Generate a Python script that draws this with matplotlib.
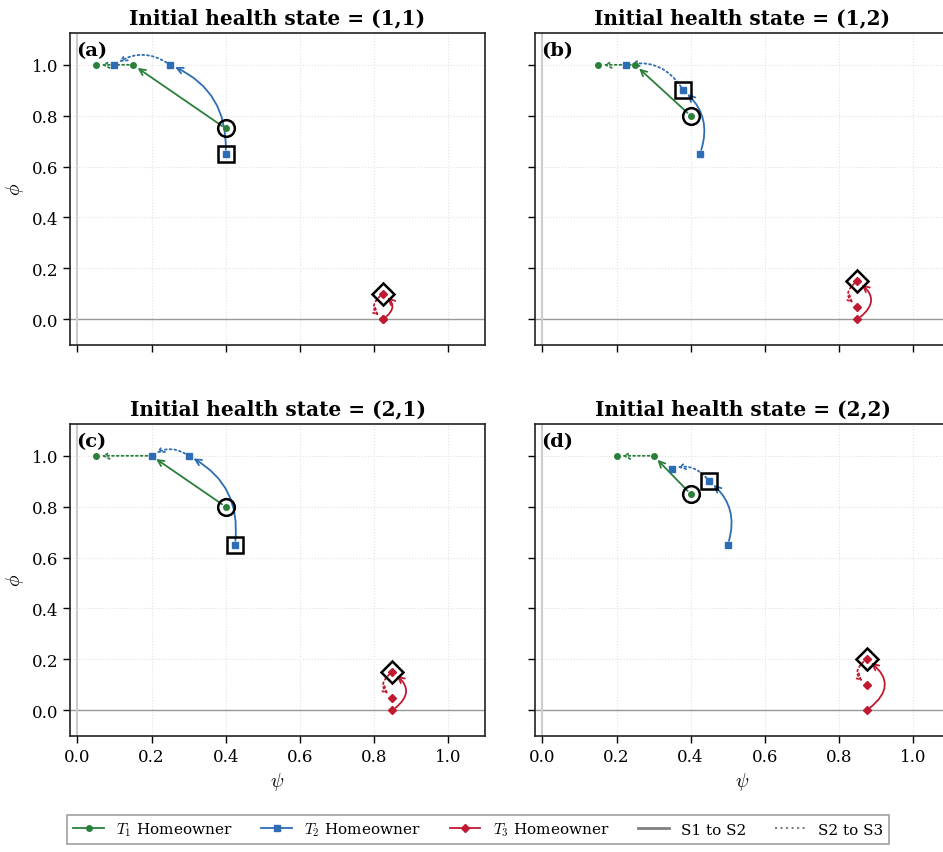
import numpy as np
import matplotlib
matplotlib.use("Agg")
from matplotlib import pyplot as plt
from matplotlib.patches import FancyArrowPatch
from matplotlib.lines import Line2D

# panel texts
titles = ["Initial health state = (1,1)", "Initial health state = (1,2)",
          "Initial health state = (2,1)", "Initial health state = (2,2)"]
panel_labels = ["(a)", "(b)", "(c)", "(d)"]

# positions (psi, phi) in stages S1, S2, S3 for each panel
T1_psi = [[0.40, 0.15, 0.05], [0.40, 0.25, 0.15], [0.40, 0.20, 0.05], [0.40, 0.30, 0.20]]
T1_phi = [[0.75, 1.00, 1.00], [0.80, 1.00, 1.00], [0.80, 1.00, 1.00], [0.85, 1.00, 1.00]]
T2_psi = [[0.40, 0.25, 0.10], [0.425, 0.38, 0.225], [0.425, 0.30, 0.20], [0.50, 0.45, 0.35]]
T2_phi = [[0.65, 1.00, 1.00], [0.65, 0.90, 1.00], [0.65, 1.00, 1.00], [0.65, 0.90, 0.95]]
T3_psi = [[0.825, 0.825, 0.825], [0.85, 0.85, 0.85], [0.85, 0.85, 0.85], [0.875, 0.875, 0.875]]
T3_phi = [[0.00, 0.10, 0.00], [0.00, 0.15, 0.05], [0.00, 0.15, 0.05], [0.00, 0.20, 0.10]]

# which stage gets the big hollow marker
T1_mark = [0, 0, 0, 0]
T2_mark = [0, 1, 0, 1]
T3_mark = [1, 1, 1, 1]

types = [
    ("$T_1$ Homeowner", T1_psi, T1_phi, T1_mark, "#2a7f3b", "o", 0.0, 12),
    ("$T_2$ Homeowner", T2_psi, T2_phi, T2_mark, "#2c6db5", "s", 0.35, 11),
    ("$T_3$ Homeowner", T3_psi, T3_phi, T3_mark, "#c01a31", "D", 0.7, 11.5),
]

matplotlib.rcParams['font.family'] = 'serif'
matplotlib.rcParams['font.serif'] = ['DejaVu Serif']
matplotlib.rcParams['mathtext.fontset'] = 'cm'
matplotlib.rcParams['font.size'] = 11

fig = plt.figure(figsize=(9.43, 8.53), dpi=100)

W = 415 / 943.
H = 311.7 / 853.
pos = [(70 / 943., 1 - 345.7 / 853., W, H),
       (535 / 943., 1 - 345.7 / 853., W, H),
       (70 / 943., 1 - 736.7 / 853., W, H),
       (535 / 943., 1 - 736.7 / 853., W, H)]

for k in range(4):
    ax = fig.add_axes(pos[k])
    ax.set_xlim(-0.02, 1.1)
    ax.set_ylim(-0.1, 1.125)
    ax.set_xticks(np.arange(0, 1.01, 0.2))
    ax.set_yticks(np.arange(0, 1.01, 0.2))
    ax.grid(True, linestyle=':', color='#e2e2e2', linewidth=0.8)
    ax.axhline(0, color='#999999', linewidth=1.0, zorder=1)
    ax.axvline(0, color='#cccccc', linewidth=1.5, zorder=1)
    for sp in ax.spines.values():
        sp.set_linewidth(1.2)
        sp.set_color('#222222')
    ax.tick_params(labelsize=12, length=5, width=1)
    ax.set_axisbelow(True)

    for name, P, F, M, col, mk, rad, big in types:
        x = P[k]
        y = F[k]
        ax.plot(x, y, linestyle='none', marker=mk, color=col,
                markersize=4 if mk != 'D' else 4.5, zorder=4)
        # S1 -> S2 solid, S2 -> S3 dotted
        for i, ls in ((0, '-'), (1, ':')):
            ar = FancyArrowPatch((x[i], y[i]), (x[i + 1], y[i + 1]),
                                 connectionstyle="arc3,rad=%g" % rad,
                                 arrowstyle='->', mutation_scale=11,
                                 color=col, linewidth=1.3, linestyle=ls,
                                 shrinkA=3, shrinkB=4, zorder=3)
            ax.add_patch(ar)
        j = M[k]
        ax.plot(x[j], y[j], linestyle='none', marker=mk, markersize=big,
                markerfacecolor='none', markeredgecolor='black',
                markeredgewidth=1.8, zorder=5)

    ax.set_title(titles[k], fontsize=14.5, fontweight='bold', pad=7)
    ax.text(0.015, 0.975, panel_labels[k], transform=ax.transAxes,
            fontsize=14, fontweight='bold', va='top', ha='left')

    if k in (2, 3):
        ax.set_xlabel(r'$\psi$', fontsize=14)
    else:
        ax.tick_params(labelbottom=False)
    if k in (0, 2):
        ax.set_ylabel(r'$\phi$', fontsize=14)
    else:
        ax.tick_params(labelleft=False)

handles = []
for name, P, F, M, col, mk, rad, big in types:
    handles.append(Line2D([], [], color=col, marker=mk, markersize=4,
                          linewidth=1.3, label=name))
handles.append(Line2D([], [], color='gray', linewidth=2, label='S1 to S2'))
handles.append(Line2D([], [], color='gray', linewidth=1.5, linestyle=':',
                      label='S2 to S3'))

leg = fig.legend(handles=handles, loc='lower center',
                 bbox_to_anchor=(0.507, 0.0), ncol=5, fontsize=11,
                 fancybox=False, edgecolor='#888888', columnspacing=1.9,
                 handlelength=2.0, borderpad=0.4)
leg.get_frame().set_linewidth(1.2)

fig.savefig("out.png", dpi=100)
